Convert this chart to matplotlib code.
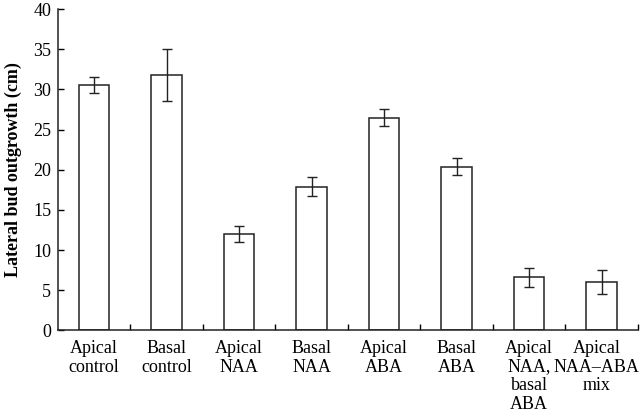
import matplotlib.pyplot as plt
import matplotlib.transforms as mtransforms
import numpy as np

# Data
labels = ['Apical\ncontrol', 'Basal\ncontrol', 'Apical\nNAA', 'Basal\nNAA',
          'Apical\nABA', 'Basal\nABA', 'Apical\nNAA,\nbasal\nABA',
          'Apical\nNAA\u2013ABA\nmix']
means = [30.6, 31.8, 12.0, 17.9, 26.5, 20.4, 6.6, 6.0]
errors = [1.0, 3.2, 1.05, 1.2, 1.05, 1.03, 1.2, 1.45]
yticks = [0, 5, 10, 15, 20, 25, 30, 35, 40]

plt.rcParams['font.family'] = ['Liberation Serif', 'DejaVu Serif']

fig = plt.figure(figsize=(6.4, 4.16), dpi=100)
ax = fig.add_axes([0.0906, 0.206, 0.906, 0.772])

x = np.arange(len(labels))
ax.bar(x, means, width=0.42, color='white', edgecolor='#222222', linewidth=1.1)
ax.errorbar(x, means, yerr=errors, fmt='none', ecolor='#222222',
            elinewidth=1.0, capsize=3.5, capthick=1.0)

ax.set_xlim(-0.5, len(labels) - 0.5)
ax.set_ylim(0, 40)
ax.set_yticks(yticks)
ax.set_yticklabels([str(t) for t in yticks], fontsize=13)
ax.set_xticks(x)
ax.set_xticklabels(labels, fontsize=13, linespacing=1.12)
ax.set_xticks(np.arange(len(labels)) + 0.5, minor=True)
ax.tick_params(axis='x', which='major', length=0, pad=7)
ax.tick_params(axis='x', which='minor', direction='in', length=4, width=1)
ax.tick_params(axis='y', direction='in', length=4, width=1, pad=5)

# nudge the last label left so it stays inside the figure
shift = mtransforms.ScaledTranslation(-5 / 100, 0, fig.dpi_scale_trans)
last = ax.get_xticklabels()[-1]
last.set_transform(last.get_transform() + shift)

for s in ['top', 'right']:
    ax.spines[s].set_visible(False)
for s in ['left', 'bottom']:
    ax.spines[s].set_linewidth(1.1)
    ax.spines[s].set_color('#222222')

ax.set_ylabel('Lateral bud outgrowth (cm)', fontsize=13, fontweight='bold',
              labelpad=8)

fig.savefig('out.png', dpi=100)
